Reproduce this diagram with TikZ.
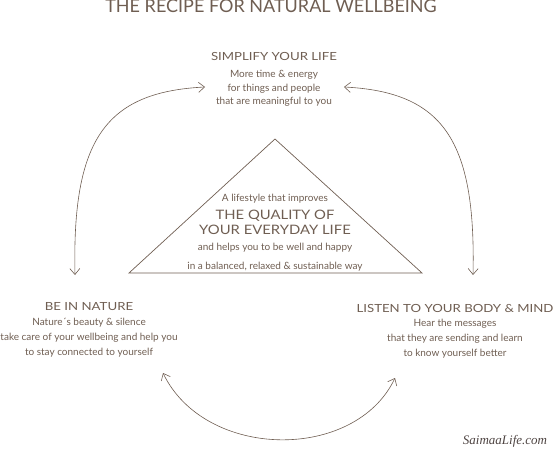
\documentclass[tikz,border=0pt]{standalone}
\usepackage{fontspec}
\setmainfont{Lato}
\newfontfamily\capsfont{Lato}[FakeStretch=1.18]
\newfontfamily\widecapsfont{Lato}[FakeStretch=1.14]
\newfontfamily\signfont{Liberation Serif}
\usepackage{tikz}
\usetikzlibrary{arrows.meta,positioning}
\definecolor{recipebrown}{HTML}{6F5E52}
\definecolor{recipeink}{HTML}{4E4442}

\begin{document}
\begin{tikzpicture}[
  x=1pt, y=-1pt,
  title/.style={text=recipebrown, font=\fontsize{18}{20}\selectfont, inner sep=0pt},
  head/.style={text=recipebrown, font=\capsfont\fontsize{11.2}{13}\selectfont, inner sep=0pt},
  bigcaps/.style={text=recipebrown, font=\widecapsfont\fontsize{13}{14.5}\selectfont, align=center, inner sep=0pt},
  body/.style={text=recipebrown, font=\fontsize{10}{15}\selectfont, align=center, inner sep=0pt},
  cyclearrow/.style={draw=recipebrown, line width=0.6pt,
    {Straight Barb[length=6pt,width=10pt]}-{Straight Barb[length=6pt,width=10pt]}}
]
\useasboundingbox (0,0) rectangle (557,457);

% heading
\node[title, anchor=base] (recipe) at (271,13) {THE RECIPE FOR NATURAL WELLBEING};

% the three corners
\node[head, anchor=base] (simplify) at (274,61) {SIMPLIFY YOUR LIFE};
\node[body, below=9pt of simplify, font=\fontsize{10}{13.3}\selectfont] (simplifytxt)
  {More time \& energy\\for things and people\\that are meaningful to you};

\node[head, anchor=base] (nature) at (89,310) {BE IN NATURE};
\node[body, below=8pt of nature] (naturetxt)
  {Nature´s beauty \& silence\\take care of your wellbeing and help you\\to stay connected to yourself};

\node[head, anchor=base] (listen) at (455,312) {LISTEN TO YOUR BODY \& MIND};
\node[body, below=7pt of listen] (listentxt)
  {Hear the messages\\that they are sending and learn\\to know yourself better};

% the triangle in the middle
\draw[recipebrown, line width=0.7pt] (275,139) -- (422,273) -- (129,273) -- cycle;
\node[body, anchor=base] (lifestyle) at (275,202) {A lifestyle that improves};
\node[bigcaps, below=6pt of lifestyle] (quality) {THE QUALITY OF\\YOUR EVERYDAY LIFE};
\node[body, below=9pt of quality, font=\fontsize{10}{18.5}\selectfont] (wellbeing)
  {and helps you to be well and happy\\in a balanced, relaxed \& sustainable way};

% ends of the arcs
\coordinate (simplifyW) at (205,87);
\coordinate (simplifyE) at (344,87);
\coordinate (natureN) at (75,275);
\coordinate (natureS) at (163,373);
\coordinate (listenN) at (473,275);
\coordinate (listenS) at (395,378);

\draw[cyclearrow] (natureN) .. controls (72,140) and (105,92) .. (simplifyW);
\draw[cyclearrow] (simplifyE) .. controls (443,92) and (476,140) .. (listenN);
\draw[cyclearrow] (natureS) .. controls (205,460) and (355,462) .. (listenS);

\node[text=recipeink, font=\signfont\itshape\fontsize{13}{15}\selectfont] (saimaa) at (505,441) {SaimaaLife.com};
\end{tikzpicture}
\end{document}
